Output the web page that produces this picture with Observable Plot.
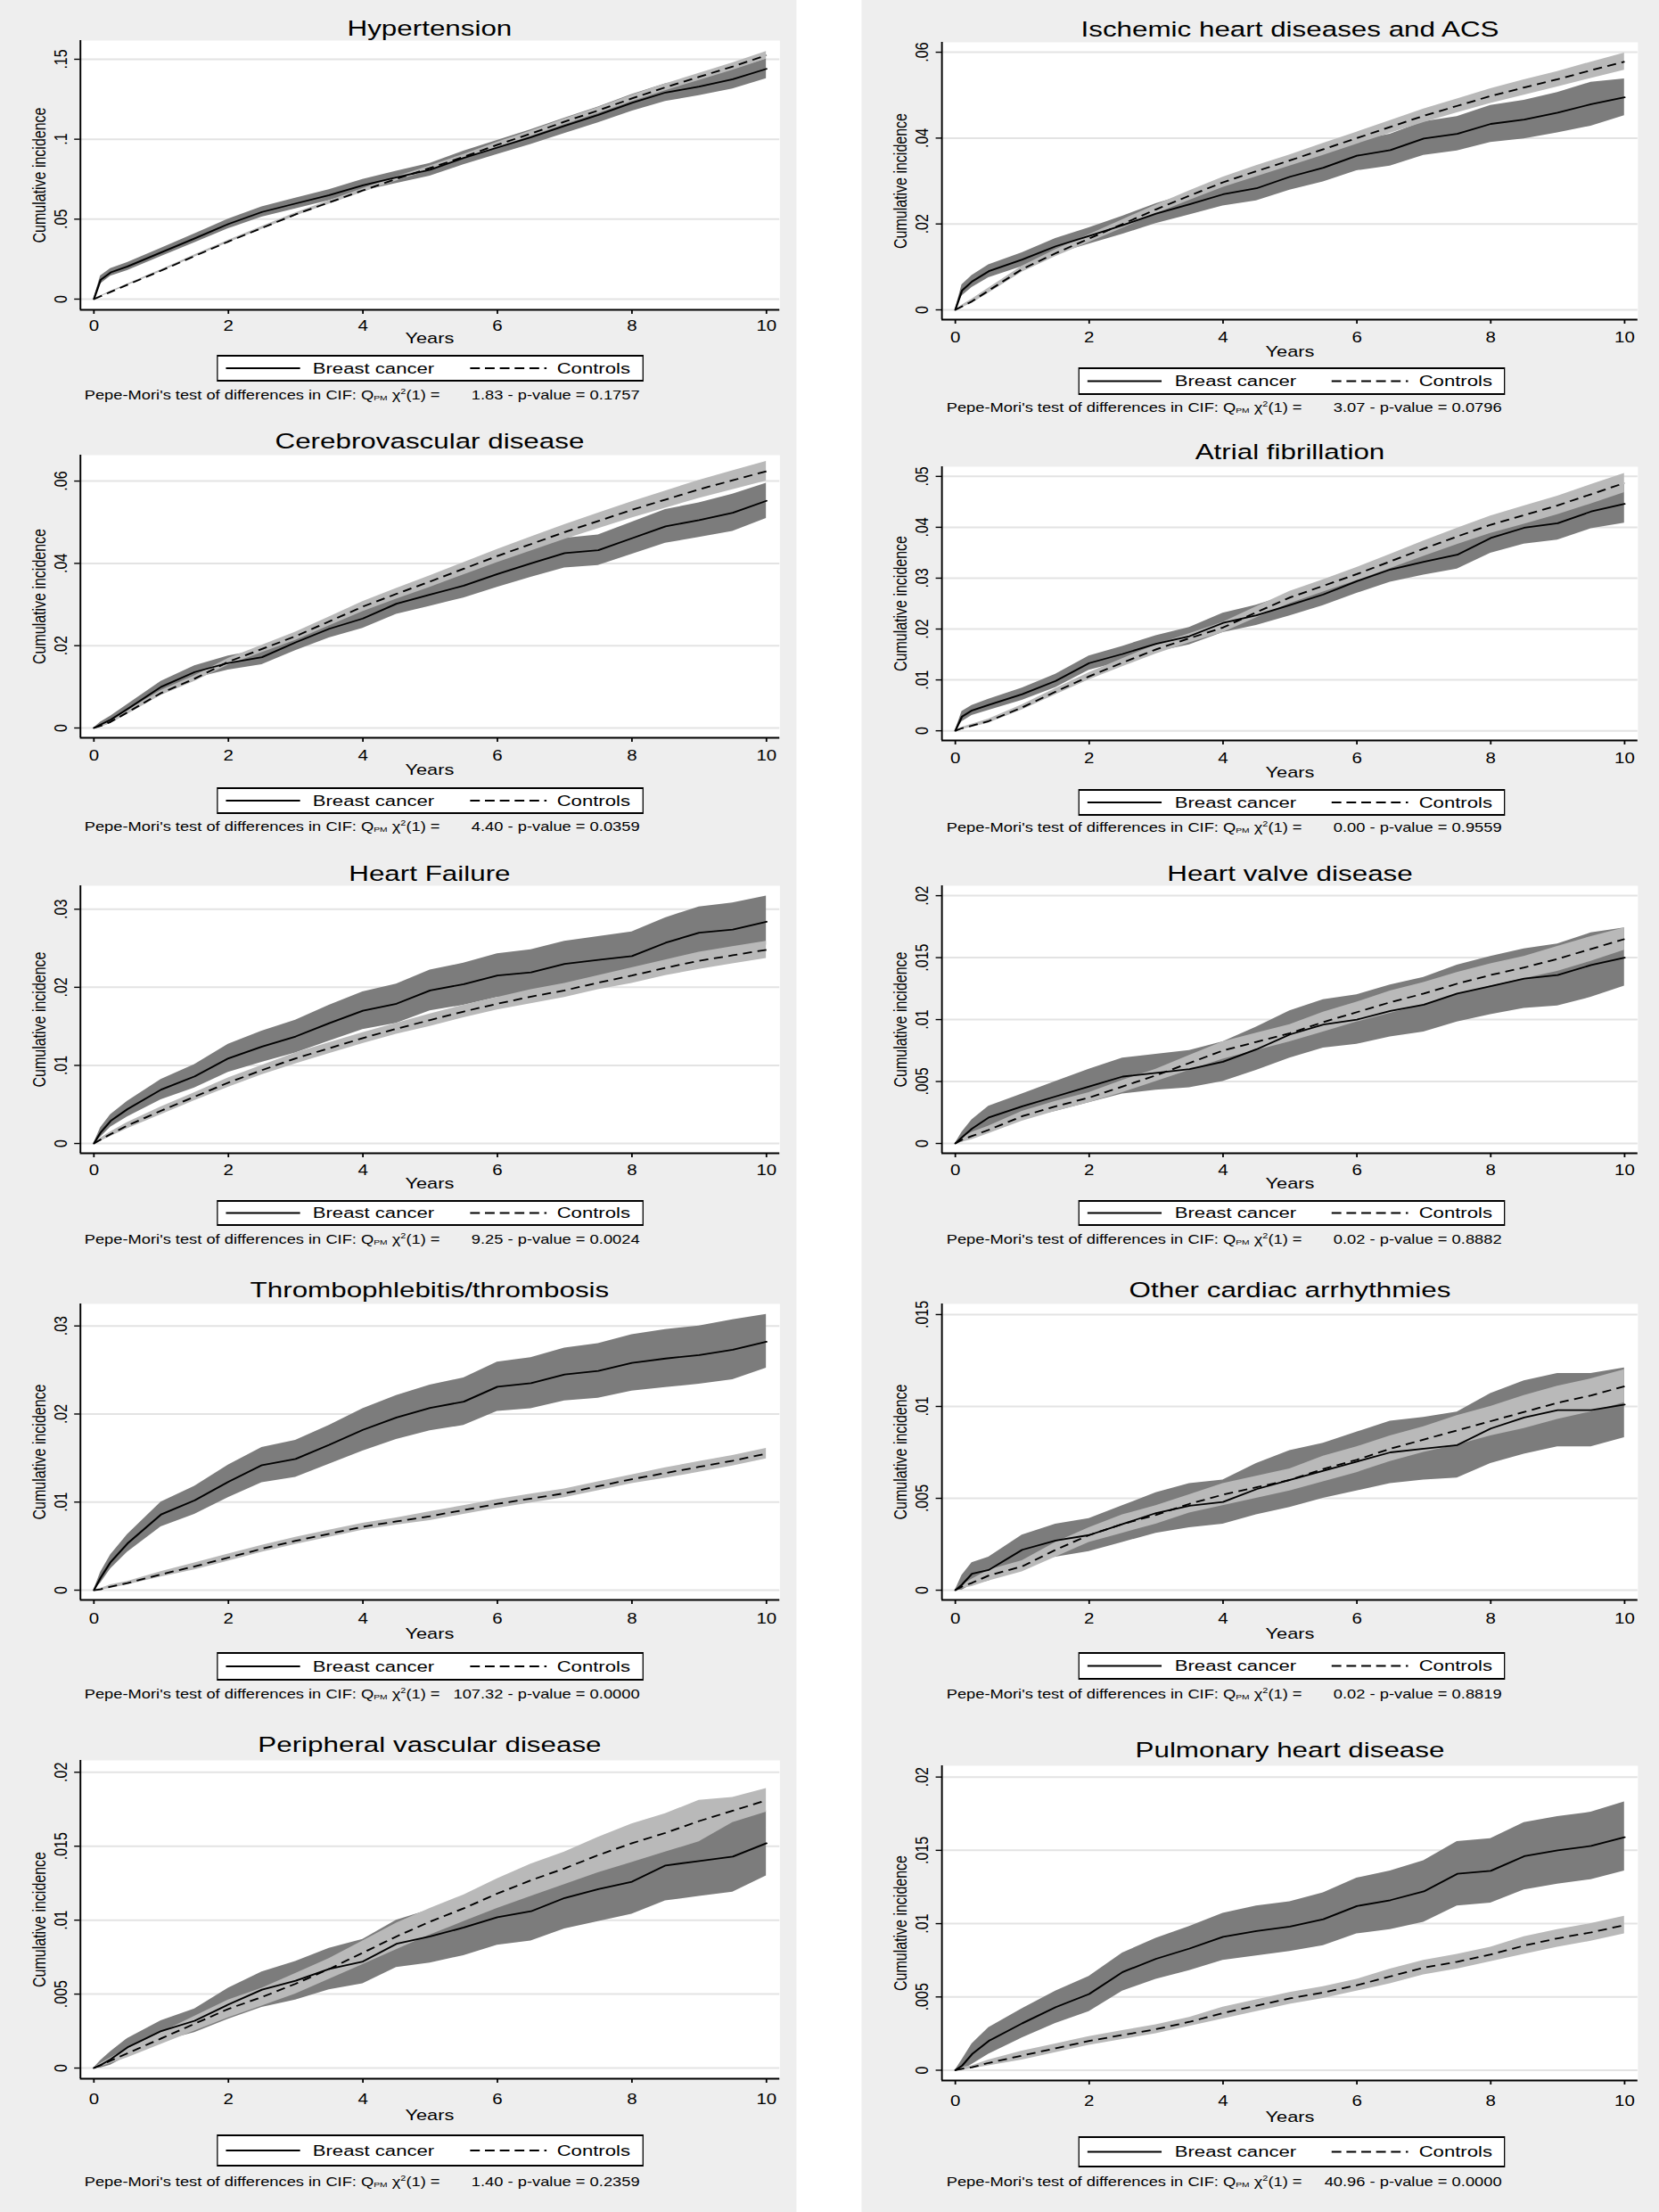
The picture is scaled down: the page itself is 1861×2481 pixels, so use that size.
<!DOCTYPE html>
<html>
<head>
<meta charset="utf-8">
<script src="https://cdn.jsdelivr.net/npm/d3@7"></script>
<script src="https://cdn.jsdelivr.net/npm/@observablehq/plot@0.6"></script>
<style>
html, body { margin: 0; padding: 0; background: #ffffff; overflow: hidden; }
#page { position: relative; width: 1454px; height: 2481px; transform: scaleX(1.28); transform-origin: 0 0;
        font-family: "Liberation Sans", Arial, sans-serif; color: #000; }
.col { position: absolute; top: 0; height: 2481px; background: #eeeeee; }
.abs { position: absolute; white-space: pre; }
.ttl { font-size: 24.5px; line-height: 25px; text-align: center; }
.yrs { font-size: 17px; line-height: 17px; text-align: center; }
.leg { background: #fff; border: 2px solid #000; border-left-width: 1.6px; border-right-width: 1.6px; box-sizing: border-box; }
.legtxt { font-size: 17.3px; line-height: 18px; }
.cap { font-size: 14.3px; line-height: 16px; }
.sub { font-size: 8px; line-height: 0; position: relative; top: 1px; }
.sup { font-size: 8.5px; line-height: 0; position: relative; top: -6px; }
</style>
</head>
<body>
<div id="page"></div>
<script>
// ---------------- DATA ----------------
const grid = [0, 0.1, 0.25, 0.5, 1, 1.5, 2, 2.5, 3, 3.5, 4, 4.5, 5, 5.5, 6, 6.5, 7, 7.5, 8, 8.5, 9, 9.5, 10];
const xTicks = [0, 2, 4, 6, 8, 10];
const seriesNames = ["Breast cancer", "Controls"];

const titles = ["Hypertension", "Ischemic heart diseases and ACS", "Cerebrovascular disease", "Atrial fibrillation",
  "Heart Failure", "Heart valve disease", "Thrombophlebitis/thrombosis", "Other cardiac arrhythmies",
  "Peripheral vascular disease", "Pulmonary heart disease"];
const qpmStat = ["1.83", "3.07", "4.40", "0.00", "9.25", "0.02", "107.32", "0.02", "1.40", "40.96"];
const pValue = ["0.1757", "0.0796", "0.0359", "0.9559", "0.0024", "0.8882", "0.0000", "0.8819", "0.2359", "0.0000"];

const yTickSets = [
  [0, .05, .1, .15], [0, .02, .04, .06], [0, .02, .04, .06], [0, .01, .02, .03, .04, .05],
  [0, .01, .02, .03], [0, .005, .01, .015, .02], [0, .01, .02, .03], [0, .005, .01, .015],
  [0, .005, .01, .015, .02], [0, .005, .01, .015, .02]];
const yTickLabelSets = [
  ["0", ".05", ".1", ".15"], ["0", ".02", ".04", ".06"], ["0", ".02", ".04", ".06"], ["0", ".01", ".02", ".03", ".04", ".05"],
  ["0", ".01", ".02", ".03"], ["0", ".005", ".01", ".015", ".02"], ["0", ".01", ".02", ".03"], ["0", ".005", ".01", ".015"],
  ["0", ".005", ".01", ".015", ".02"], ["0", ".005", ".01", ".015", ".02"]];

// Hypertension
const htn_bc   = [0, .012, .0167, .0204, .0292, .038, .047, .0545, .0598, .065, .0712, .0762, .0809, .0883, .0948, .1013, .1084, .1152, .1227, .1292, .1329, .1375, .144];
const htn_bcLo = [0, .0095, .0143, .0179, .0266, .0352, .044, .0513, .0565, .0616, .0676, .0724, .0769, .0841, .0904, .0967, .1036, .1102, .1175, .1237, .1272, .1314, .1378];
const htn_bcHi = [0, .0145, .0191, .0229, .0318, .0408, .05, .0577, .0631, .0684, .0748, .08, .0849, .0925, .0992, .1059, .1132, .1202, .1279, .1347, .1386, .1436, .1502];
const htn_ct   = [0, .0018, .0045, .009, .0178, .027, .036, .0445, .053, .0605, .068, .0752, .082, .089, .0965, .1035, .111, .118, .1255, .1325, .139, .1455, .1525];
const htn_ctLo = [0, .0015, .0041, .0085, .0172, .0263, .0352, .0436, .052, .0594, .0668, .0739, .0806, .0875, .0949, .1018, .1092, .1161, .1235, .1304, .1368, .1432, .1501];
const htn_ctHi = [0, .0021, .0049, .0095, .0184, .0277, .0368, .0454, .054, .0616, .0692, .0765, .0834, .0905, .0981, .1052, .1128, .1199, .1275, .1346, .1412, .1478, .1549];

// Ischemic heart diseases and ACS
const ihd_bc   = [0, .0045, .0066, .009, .0117, .0148, .0172, .0197, .0224, .0246, .0269, .0283, .031, .0331, .0359, .0372, .0399, .041, .0433, .0443, .0459, .0479, .0495];
const ihd_bcLo = [0, .0032, .0052, .0075, .0101, .013, .0153, .0176, .0201, .0221, .0242, .0254, .0279, .0298, .0324, .0335, .036, .037, .039, .0398, .0412, .0428, .0452];
const ihd_bcHi = [0, .0058, .008, .0105, .0133, .0166, .0191, .0218, .0247, .0271, .0296, .0312, .0341, .0364, .0394, .0409, .0438, .045, .0476, .0488, .0506, .053, .0538];
const ihd_ct   = [0, .0008, .002, .0045, .0095, .0132, .0166, .02, .0234, .0266, .0297, .0323, .0348, .0374, .04, .0426, .0452, .0475, .0498, .0518, .0537, .0558, .0578];
const ihd_ctLo = [0, .0005, .0015, .0039, .0088, .0124, .0157, .019, .0224, .0255, .0285, .031, .0335, .036, .0386, .0411, .0436, .0459, .0481, .05, .0519, .0539, .0558];
const ihd_ctHi = [0, .0011, .0025, .0051, .0102, .014, .0175, .021, .0244, .0277, .0309, .0336, .0361, .0388, .0414, .0441, .0468, .0491, .0515, .0536, .0555, .0577, .0598];

// Cerebrovascular disease
const cvd_bc   = [0, .0008, .002, .0046, .01, .0136, .0158, .0172, .0208, .0241, .0266, .0302, .0324, .0346, .0374, .04, .0425, .0432, .0461, .049, .0505, .0523, .0552];
const cvd_bcLo = [0, .0002, .0011, .0035, .0087, .0121, .0141, .0154, .0188, .0219, .0242, .0276, .0296, .0316, .0342, .0366, .0389, .0395, .0422, .0449, .0463, .0478, .0509];
const cvd_bcHi = [0, .0014, .0029, .0057, .0113, .0151, .0175, .019, .0228, .0263, .029, .0328, .0352, .0376, .0406, .0434, .0461, .0469, .05, .0531, .0547, .0568, .0595];
const cvd_ct   = [0, .0005, .0015, .0038, .0085, .012, .0161, .0192, .0223, .0259, .0295, .0326, .0356, .0387, .0418, .0447, .0476, .0503, .053, .0555, .058, .0602, .0624];
const cvd_ctLo = [0, .0003, .0011, .0033, .0079, .0113, .0153, .0183, .0213, .0248, .0283, .0313, .0342, .0372, .0402, .043, .0458, .0484, .051, .0534, .0558, .0579, .06];
const cvd_ctHi = [0, .0007, .0019, .0043, .0091, .0127, .0169, .0201, .0233, .027, .0307, .0339, .037, .0402, .0434, .0464, .0494, .0522, .055, .0576, .0602, .0625, .0648];

// Atrial fibrillation
const af_bc   = [0, .0028, .004, .0051, .0072, .0098, .0133, .0151, .0171, .0186, .0212, .0227, .0247, .0268, .0294, .0317, .0332, .0346, .0379, .0399, .0408, .0431, .0446];
const af_bcLo = [0, .0018, .003, .004, .006, .0085, .0119, .0136, .0155, .0169, .0193, .0207, .0226, .0246, .027, .0292, .0306, .0318, .0349, .0367, .0375, .0397, .0408];
const af_bcHi = [0, .0038, .005, .0062, .0084, .0111, .0147, .0166, .0187, .0203, .0231, .0247, .0268, .029, .0318, .0342, .0358, .0374, .0409, .0431, .0441, .0465, .0484];
const af_ct   = [0, .0005, .001, .0019, .0046, .0077, .0107, .0134, .016, .0182, .0203, .0233, .0262, .0285, .0308, .0333, .0358, .0382, .0405, .0424, .0443, .0465, .0487];
const af_ctLo = [0, .0003, .0007, .0015, .0041, .0071, .01, .0126, .0151, .0173, .0193, .0222, .025, .0273, .0295, .0319, .0343, .0366, .0388, .0406, .0425, .0446, .0468];
const af_ctHi = [0, .0007, .0013, .0023, .0051, .0083, .0114, .0142, .0169, .0191, .0213, .0244, .0274, .0297, .0321, .0347, .0373, .0398, .0422, .0442, .0461, .0484, .0506];

// Heart Failure
const hf_bc   = [0, .0014, .0029, .0044, .0069, .0086, .0109, .0124, .0137, .0154, .017, .0179, .0196, .0204, .0215, .0219, .023, .0235, .024, .0257, .027, .0274, .0284];
const hf_bcLo = [0, .0008, .0021, .0034, .0056, .0071, .0091, .0104, .0116, .0131, .0146, .0154, .017, .0177, .0187, .019, .0201, .0205, .0209, .0225, .0237, .024, .0254];
const hf_bcHi = [0, .002, .0037, .0054, .0082, .0101, .0127, .0144, .0158, .0177, .0194, .0204, .0222, .0231, .0243, .0248, .0259, .0265, .0271, .0289, .0303, .0308, .0317];
const hf_ct   = [0, .0005, .0012, .0023, .0042, .006, .0078, .0094, .0109, .0122, .0135, .0147, .0158, .0169, .0179, .0188, .0196, .0206, .0215, .0225, .0234, .0241, .0248];
const hf_ctLo = [0, .0003, .0009, .0019, .0037, .0055, .0072, .0088, .0102, .0115, .0128, .014, .015, .0161, .0171, .0179, .0187, .0197, .0205, .0215, .0223, .023, .0237];
const hf_ctHi = [0, .0007, .0015, .0027, .0047, .0065, .0084, .01, .0116, .0129, .0142, .0154, .0166, .0177, .0187, .0197, .0205, .0215, .0225, .0235, .0245, .0252, .0259];

// Heart valve disease
const hvd_bc   = [0, .0005, .0012, .0021, .003, .0038, .0046, .0054, .0057, .006, .0066, .0076, .0088, .0096, .01, .0107, .0112, .0121, .0127, .0133, .0136, .0144, .015];
const hvd_bcLo = [0, .0001, .0005, .0012, .002, .0026, .0033, .004, .0043, .0045, .005, .0059, .0069, .0077, .008, .0086, .009, .0098, .0104, .0109, .0111, .0118, .0127];
const hvd_bcHi = [0, .0009, .0019, .003, .004, .005, .006, .0069, .0072, .0075, .0082, .0094, .0107, .0116, .012, .0128, .0134, .0144, .0151, .0157, .0161, .017, .0174];
const hvd_ct   = [0, .0003, .0006, .0011, .0022, .003, .0037, .0046, .0055, .0065, .0075, .0082, .0089, .0098, .0106, .0114, .0121, .0129, .0136, .0142, .0149, .0157, .0165];
const hvd_ctLo = [0, .0001, .0003, .0008, .0018, .0026, .0033, .0041, .005, .0059, .0068, .0075, .0082, .009, .0098, .0105, .0112, .012, .0127, .0133, .0139, .0147, .0156];
const hvd_ctHi = [0, .0005, .0009, .0014, .0026, .0034, .0041, .0051, .006, .0071, .0082, .0089, .0096, .0106, .0114, .0123, .013, .0138, .0145, .0151, .0159, .0167, .0174];

// Thrombophlebitis/thrombosis
const tro_bc   = [0, .0014, .0032, .0053, .0086, .0102, .0123, .0142, .0149, .0165, .0182, .0196, .0207, .0214, .0231, .0235, .0245, .0249, .0258, .0263, .0267, .0273, .0282];
const tro_bcLo = [0, .0008, .0024, .0043, .0072, .0086, .0105, .0122, .0128, .0143, .0158, .0171, .0181, .0187, .0203, .0206, .0215, .0218, .0226, .023, .0234, .0239, .0252];
const tro_bcHi = [0, .002, .004, .0063, .01, .0118, .0142, .0162, .017, .0187, .0206, .0221, .0233, .0241, .0259, .0264, .0275, .028, .029, .0296, .03, .0307, .0313];
const tro_ct   = [0, .0001, .0004, .0008, .0018, .0027, .0037, .0047, .0056, .0064, .0072, .0078, .0084, .0091, .0098, .0104, .011, .0118, .0126, .0133, .014, .0147, .0155];
const tro_ctLo = [0, 0, .0002, .0006, .0015, .0023, .0033, .0043, .0052, .006, .0068, .0074, .0079, .0086, .0093, .0099, .0105, .0113, .0121, .0127, .0134, .0141, .0149];
const tro_ctHi = [0, .0002, .0006, .001, .0021, .0031, .0041, .0051, .006, .0068, .0076, .0082, .0089, .0096, .0103, .0109, .0115, .0123, .0131, .0139, .0146, .0153, .0161];

// Other cardiac arrhythmies
const oca_bc   = [0, .0003, .0009, .0011, .0022, .0027, .003, .0036, .0042, .0046, .0048, .0055, .006, .0065, .007, .0075, .0077, .0079, .0088, .0094, .0098, .0098, .0101];
const oca_bcLo = [0, 0, .0003, .0005, .0014, .0018, .0021, .0026, .0031, .0034, .0036, .0041, .0045, .005, .0054, .0058, .006, .0061, .0069, .0074, .0078, .0078, .0083];
const oca_bcHi = [0, .0008, .0015, .0018, .003, .0036, .0039, .0046, .0053, .0058, .006, .0069, .0076, .008, .0086, .0092, .0094, .0097, .0107, .0114, .0118, .0118, .0121];
const oca_ct   = [0, .0002, .0004, .0008, .0013, .0022, .003, .0036, .0041, .0047, .0052, .0056, .006, .0066, .0071, .0077, .0082, .0087, .0092, .0097, .0102, .0106, .0111];
const oca_ctLo = [0, .0001, .0002, .0005, .001, .0018, .0026, .0031, .0036, .0042, .0046, .005, .0054, .0059, .0064, .007, .0075, .0079, .0084, .0088, .0093, .0097, .0102];
const oca_ctHi = [0, .0003, .0006, .0011, .0016, .0026, .0034, .0041, .0046, .0052, .0058, .0062, .0066, .0073, .0078, .0084, .0089, .0095, .01, .0106, .0111, .0115, .012];

// Peripheral vascular disease
const pvd_bc   = [0, .0002, .0006, .0014, .0025, .0032, .0043, .0053, .0059, .0067, .0072, .0084, .0089, .0095, .0102, .0106, .0115, .0121, .0126, .0137, .014, .0143, .0152];
const pvd_bcLo = [0, 0, .0002, .0008, .0018, .0024, .0033, .0041, .0046, .0053, .0057, .0068, .0071, .0076, .0083, .0086, .0094, .0099, .0104, .0113, .0116, .0119, .013];
const pvd_bcHi = [0, .0005, .0011, .002, .0032, .004, .0054, .0065, .0072, .0081, .0087, .01, .0107, .0114, .0121, .0126, .0136, .0143, .0148, .0161, .0164, .0167, .0174];
const pvd_ct   = [0, .0002, .0005, .001, .002, .003, .004, .0048, .0057, .0067, .0078, .0089, .0099, .0108, .0118, .0127, .0135, .0144, .0152, .0159, .0167, .0174, .0181];
const pvd_ctLo = [0, .0001, .0003, .0007, .0016, .0025, .0034, .0042, .005, .006, .007, .008, .009, .0099, .0108, .0116, .0124, .0132, .0139, .0146, .0153, .0166, .0173];
const pvd_ctHi = [0, .0003, .0007, .0013, .0024, .0035, .0046, .0054, .0064, .0074, .0086, .0098, .0108, .0117, .0128, .0138, .0146, .0156, .0165, .0172, .0181, .0183, .0189];

// Pulmonary heart disease
const phd_bc   = [0, .0003, .0011, .002, .0032, .0043, .0052, .0067, .0076, .0083, .0091, .0095, .0098, .0103, .0112, .0116, .0122, .0134, .0136, .0146, .015, .0153, .0159];
const phd_bcLo = [0, 0, .0004, .0011, .0022, .0032, .004, .0054, .0062, .0068, .0075, .0078, .0081, .0085, .0093, .0096, .0101, .0112, .0114, .0123, .0127, .013, .0136];
const phd_bcHi = [0, .0007, .0018, .0029, .0042, .0054, .0064, .008, .009, .0098, .0107, .0112, .0115, .0121, .0131, .0136, .0143, .0156, .0158, .0169, .0173, .0176, .0183];
const phd_ct   = [0, .0001, .0002, .0005, .001, .0015, .002, .0024, .0028, .0033, .0039, .0044, .0049, .0053, .0058, .0064, .007, .0074, .0079, .0085, .009, .0094, .0099];
const phd_ctLo = [0, 0, .0001, .0003, .0007, .0012, .0017, .0021, .0025, .003, .0035, .004, .0045, .0049, .0054, .0059, .0065, .0069, .0074, .0079, .0084, .0088, .0093];
const phd_ctHi = [0, .0002, .0003, .0007, .0013, .0018, .0023, .0027, .0031, .0036, .0043, .0048, .0053, .0057, .0062, .0069, .0075, .0079, .0084, .0091, .0096, .01, .0105];

// ---------------- LAYOUT ----------------
const S = 1.28;                        // horizontal stretch of the reference
const COLX = [0, 967 / S];
const COLW = [894 / S, (1861 - 967) / S];
const PLOTW = [613, 610];
const ML = 70;
const layout = [
  {col: 0, title: 32,   top: 45,   bottom: 347,  xlab: 365,  years: 380,  legTop: 398,  legBot: 428,  cap: 443,  ydom: [-0.0067, 0.1617]},
  {col: 1, title: 33,   top: 47,   bottom: 358,  xlab: 378,  years: 395,  legTop: 412,  legBot: 443,  cap: 457,  ydom: [-0.00228, 0.0623]},
  {col: 0, title: 495,  top: 510,  bottom: 827,  xlab: 847,  years: 864,  legTop: 883,  legBot: 913,  cap: 927,  ydom: [-0.00238, 0.0663]},
  {col: 1, title: 507,  top: 523,  bottom: 830,  xlab: 850,  years: 867,  legTop: 885,  legBot: 915,  cap: 928,  ydom: [-0.0019, 0.0519]},
  {col: 0, title: 980,  top: 993,  bottom: 1293, xlab: 1312, years: 1328, legTop: 1346, legBot: 1375, cap: 1390, ydom: [-0.00125, 0.033]},
  {col: 1, title: 980,  top: 993,  bottom: 1293, xlab: 1312, years: 1328, legTop: 1346, legBot: 1375, cap: 1390, ydom: [-0.00079, 0.0208]},
  {col: 0, title: 1447, top: 1462, bottom: 1794, xlab: 1815, years: 1833, legTop: 1853, legBot: 1885, cap: 1900, ydom: [-0.00111, 0.0325]},
  {col: 1, title: 1447, top: 1462, bottom: 1794, xlab: 1815, years: 1833, legTop: 1853, legBot: 1884, cap: 1900, ydom: [-0.00053, 0.01558]},
  {col: 0, title: 1957, top: 1974, bottom: 2331, xlab: 2354, years: 2373, legTop: 2394, legBot: 2430, cap: 2447, ydom: [-0.00072, 0.0208]},
  {col: 1, title: 1963, top: 1980, bottom: 2333, xlab: 2356, years: 2375, legTop: 2396, legBot: 2431, cap: 2447, ydom: [-0.0007, 0.02077]}
];

const panelSeries = [
  [htn_bc, htn_bcLo, htn_bcHi, htn_ct, htn_ctLo, htn_ctHi],
  [ihd_bc, ihd_bcLo, ihd_bcHi, ihd_ct, ihd_ctLo, ihd_ctHi],
  [cvd_bc, cvd_bcLo, cvd_bcHi, cvd_ct, cvd_ctLo, cvd_ctHi],
  [af_bc, af_bcLo, af_bcHi, af_ct, af_ctLo, af_ctHi],
  [hf_bc, hf_bcLo, hf_bcHi, hf_ct, hf_ctLo, hf_ctHi],
  [hvd_bc, hvd_bcLo, hvd_bcHi, hvd_ct, hvd_ctLo, hvd_ctHi],
  [tro_bc, tro_bcLo, tro_bcHi, tro_ct, tro_ctLo, tro_ctHi],
  [oca_bc, oca_bcLo, oca_bcHi, oca_ct, oca_ctLo, oca_ctHi],
  [pvd_bc, pvd_bcLo, pvd_bcHi, pvd_ct, pvd_ctLo, pvd_ctHi],
  [phd_bc, phd_bcLo, phd_bcHi, phd_ct, phd_ctLo, phd_ctHi]
];

const DARK = "#7c7c7c", LIGHT = "#b9b9b9", GRID = "#e3e3e3";
const XDOM = [-0.2, 10.2];

// ---------------- BUILD ----------------
const page = document.getElementById("page");
function el(tag, cls, style, html) {
  const e = document.createElement(tag);
  if (cls) e.className = cls;
  Object.assign(e.style, style || {});
  if (html != null) e.innerHTML = html;
  return e;
}
COLX.forEach((x, i) => page.append(el("div", "col", {left: x + "px", width: COLW[i] + "px"})));

layout.forEach((L, i) => {
  const cx = COLX[L.col];
  const pw = PLOTW[L.col];
  const [bc, bcLo, bcHi, ct, ctLo, ctHi] = panelSeries[i];
  const data = grid.map((t, j) => ({t, bc: bc[j], bcLo: bcLo[j], bcHi: bcHi[j], ct: ct[j], ctLo: ctLo[j], ctHi: ctHi[j]}));
  const yt = yTickSets[i], ytl = yTickLabelSets[i];
  const mt = 4, mb = 44;
  const H = (L.bottom - L.top) + mt + mb;
  const W = 700;
  const pad = (L.xlab - L.bottom) - 5 - 5.6;

  const svg = Plot.plot({
    width: W, height: H,
    marginLeft: ML, marginRight: W - ML - pw, marginTop: mt, marginBottom: mb,
    x: {domain: XDOM},
    y: {domain: L.ydom},
    style: {background: "transparent", overflow: "visible", fontFamily: '"Liberation Sans", Arial, sans-serif', fontSize: "16px", color: "#000"},
    marks: [
      Plot.frame({fill: "white", stroke: "none"}),
      Plot.gridY(yt, {stroke: GRID, strokeOpacity: 1, strokeWidth: 2}),
      Plot.areaY(data, {x: "t", y1: "bcLo", y2: "bcHi", fill: DARK, fillOpacity: 1}),
      Plot.areaY(data, {x: "t", y1: "ctLo", y2: "ctHi", fill: LIGHT, fillOpacity: 1}),
      Plot.lineY(data, {x: "t", y: "ct", stroke: "#000", strokeWidth: 1.8, strokeDasharray: "8,5", strokeLinecap: "butt"}),
      Plot.lineY(data, {x: "t", y: "bc", stroke: "#000", strokeWidth: 1.8}),
      Plot.axisX(xTicks, {tickSize: 5, tickPadding: pad, label: null, strokeWidth: 1.4}),
      Plot.axisY(yt, {tickSize: 5, tickFormat: () => "", label: null, strokeWidth: 1.4}),
      Plot.text(yt, {y: d => d, text: (d, k) => ytl[k], frameAnchor: "left", dx: -17, rotate: -90,
                     textAnchor: "middle", lineAnchor: "middle", fontSize: 16}),
      Plot.text(["Cumulative incidence"], {text: d => d, frameAnchor: "left", dx: -36, rotate: -90,
                     textAnchor: "middle", lineAnchor: "middle", fontSize: 16}),
      Plot.ruleX([XDOM[0]], {stroke: "#000", strokeWidth: 1.5}),
      Plot.ruleY([L.ydom[0]], {stroke: "#000", strokeWidth: 2})
    ]
  });
  svg.style.position = "absolute";
  svg.style.left = cx + "px";
  svg.style.top = (L.top - mt) + "px";
  page.append(svg);

  // title
  page.append(el("div", "abs ttl", {left: (cx + ML) + "px", width: pw + "px", top: (L.title - 13) + "px"}, titles[i]));
  // x axis title
  page.append(el("div", "abs yrs", {left: (cx + ML) + "px", width: pw + "px", top: (L.years - 9) + "px"}, "Years"));

  // legend
  const lh = L.legBot - L.legTop;
  const leg = el("div", "abs leg", {left: (cx + 190) + "px", top: L.legTop + "px", width: "374px", height: lh + "px"});
  const ls = d3.create("svg").attr("width", 370).attr("height", lh - 4)
    .style("position", "absolute").style("left", "0px").style("top", "0px");
  const mid = (lh - 4) / 2;
  ls.append("line").attr("x1", 7).attr("x2", 72).attr("y1", mid).attr("y2", mid)
    .attr("stroke", "#000").attr("stroke-width", 2);
  ls.append("line").attr("x1", 221).attr("x2", 288).attr("y1", mid).attr("y2", mid)
    .attr("stroke", "#000").attr("stroke-width", 2).attr("stroke-dasharray", "8.5,4.5");
  leg.append(ls.node());
  leg.append(el("div", "abs legtxt", {left: "83px", top: (mid - 9.5) + "px"}, seriesNames[0]));
  leg.append(el("div", "abs legtxt", {left: "297px", top: (mid - 9.5) + "px"}, seriesNames[1]));
  page.append(leg);

  // Pepe-Mori caption
  const cap = el("div", "abs cap", {left: (cx + 74) + "px", top: (L.cap - 8.5) + "px", width: "560px", height: "16px"});
  cap.append(el("span", "abs", {left: "0px", top: "0px"},
    "Pepe-Mori's test of differences in CIF: Q<span class=\"sub\">PM</span> \u03C7<span class=\"sup\">2</span>(1) ="));
  cap.append(el("span", "abs", {left: "267px", top: "0px", width: "100px", textAlign: "right"}, qpmStat[i]));
  cap.append(el("span", "abs", {left: "367px", top: "0px"}, " - p-value = " + pValue[i]));
  page.append(cap);
});
</script>
</body>
</html>
